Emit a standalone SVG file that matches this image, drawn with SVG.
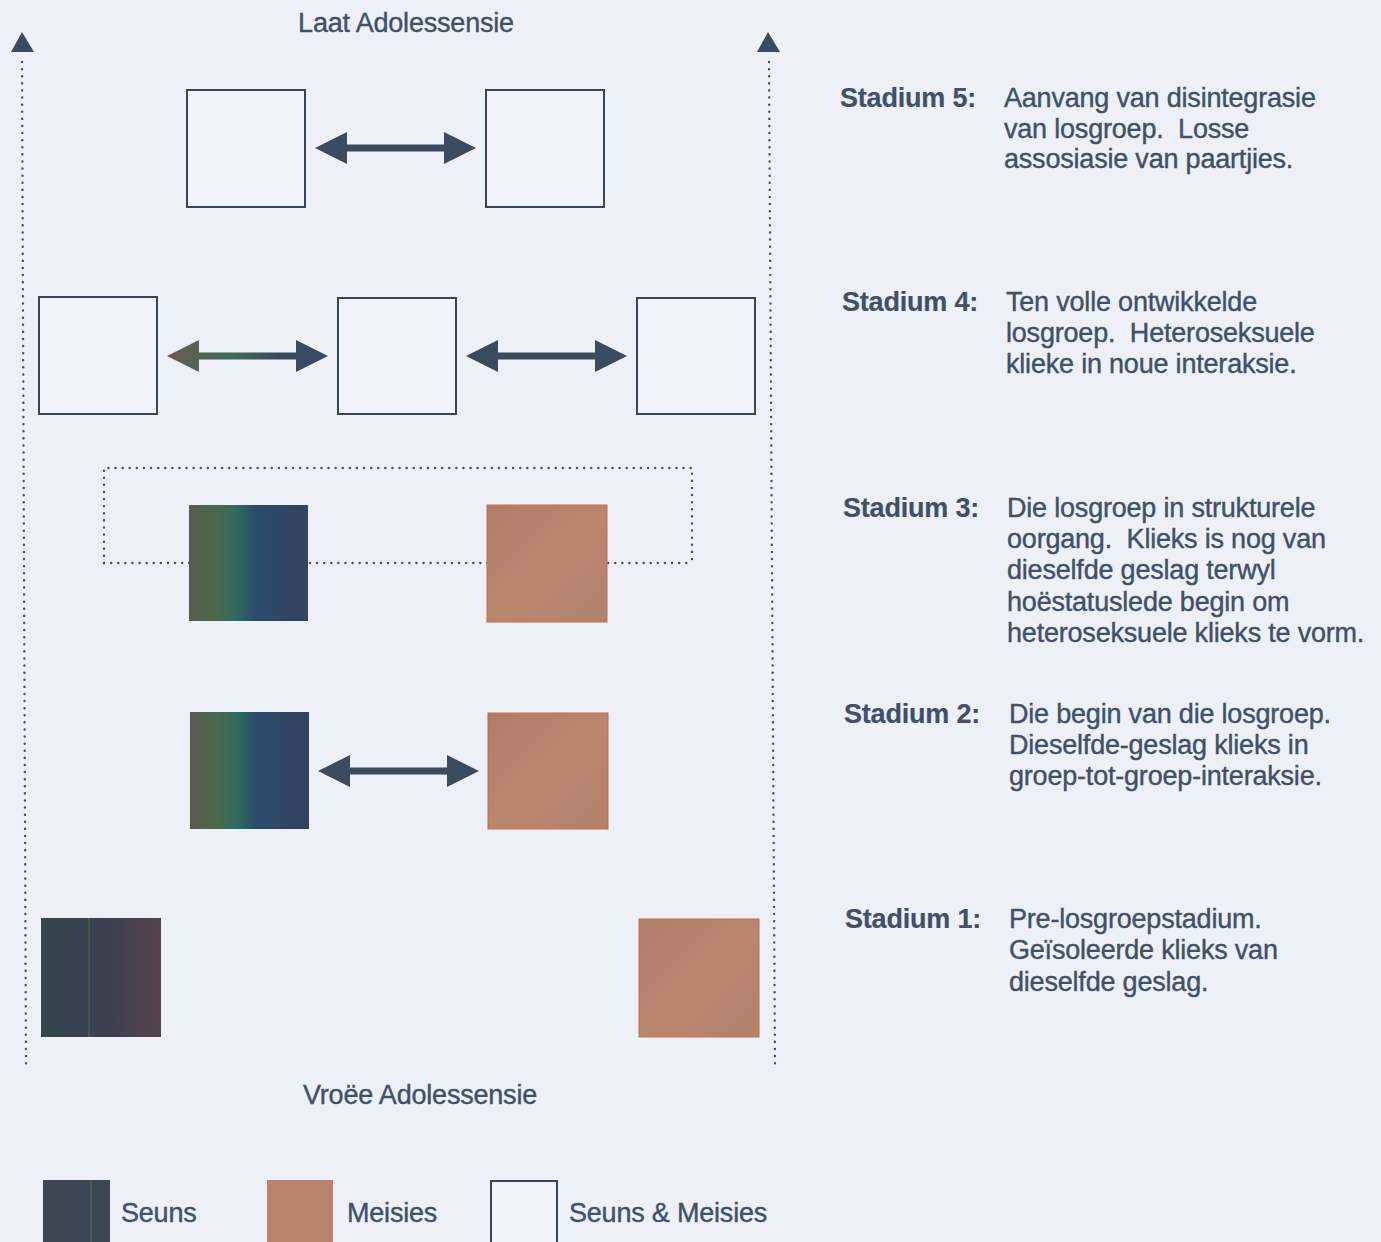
<svg xmlns="http://www.w3.org/2000/svg" width="1381" height="1242" viewBox="0 0 1381 1242">
<defs>
<style>
.t{font-family:"Liberation Sans",Arial,sans-serif;fill:#3f5069;stroke:#3f5069;stroke-width:0.4;font-size:27px;letter-spacing:-0.2px;white-space:pre}
.b{font-weight:bold;stroke-width:0.2}
.wbox{fill:#f2f3fa;stroke:#3a4458;stroke-width:2}
.girl{fill:url(#girl);stroke:#c56a4a;stroke-width:1}
.dot{fill:none;stroke:#4a4f5a;stroke-width:2.4;stroke-dasharray:0.1 7;stroke-linecap:round}
.arr{fill:#3a4a5f}
</style>
<linearGradient id="boy" x1="0" y1="0" x2="1" y2="0">
<stop offset="0" stop-color="#5b5950"/>
<stop offset="0.22" stop-color="#4a6a4a"/>
<stop offset="0.4" stop-color="#2f6a5e"/>
<stop offset="0.56" stop-color="#2a4a6a"/>
<stop offset="1" stop-color="#34435e"/>
</linearGradient>
<linearGradient id="boy1" x1="0" y1="0" x2="1" y2="0">
<stop offset="0" stop-color="#344650"/>
<stop offset="0.5" stop-color="#3a4050"/>
<stop offset="1" stop-color="#54424c"/>
</linearGradient>
<linearGradient id="girl" x1="0" y1="0" x2="1" y2="1">
<stop offset="0" stop-color="#b07e68"/>
<stop offset="0.5" stop-color="#b9876e"/>
<stop offset="1" stop-color="#b3826b"/>
</linearGradient>
<linearGradient id="arrg" x1="0" y1="0" x2="1" y2="0">
<stop offset="0" stop-color="#6a5a50"/>
<stop offset="0.4" stop-color="#3f6a58"/>
<stop offset="0.7" stop-color="#3a4a5f"/>
<stop offset="1" stop-color="#3a4a5f"/>
</linearGradient>
</defs>
<rect width="1381" height="1242" fill="#eef0f8"/>

<g id="axes">
<line class="dot" x1="22" y1="62" x2="26" y2="1066"/>
<polygon class="arr" points="22,32 11,52 34,52"/>
<line class="dot" x1="769" y1="62" x2="775" y2="1066"/>
<polygon class="arr" points="768,32 757,52 780,52"/>
</g>

<text class="t" x="406" y="32" text-anchor="middle">Laat Adolessensie</text>
<text class="t" x="420" y="1104" text-anchor="middle">Vroëe Adolessensie</text>

<g id="stage5">
<rect id="s5a" class="wbox" x="187" y="90" width="118" height="117"/>
<rect id="s5b" class="wbox" x="486" y="90" width="118" height="117"/>
</g>
<g id="stage4">
<rect id="s4a" class="wbox" x="39" y="297" width="118" height="117"/>
<rect id="s4b" class="wbox" x="338" y="298" width="118" height="116"/>
<rect id="s4c" class="wbox" x="637" y="298" width="118" height="116"/>
</g>
<g id="stage3">
<path class="dot" d="M104,563 V468 H692 V563"/>
<line class="dot" x1="104" y1="563" x2="692" y2="563"/>
<rect id="s3a" x="189" y="505" width="119" height="116" fill="url(#boy)"/>
<rect id="s3b" class="girl" x="487" y="505" width="120" height="117"/>
</g>
<g id="stage2">
<rect id="s2a" x="190" y="712" width="119" height="117" fill="url(#boy)"/>
<rect id="s2b" class="girl" x="488" y="713" width="120" height="116"/>
</g>
<g id="stage1">
<rect id="s1a" x="41" y="918" width="120" height="119" fill="url(#boy1)"/>
<line x1="89" y1="918" x2="89" y2="1037" stroke="#4a7a3a" stroke-width="1"/>
<line x1="93" y1="918" x2="93" y2="1037" stroke="#3a4a7a" stroke-width="1"/>
<rect id="s1b" class="girl" x="639" y="919" width="120" height="118"/>
</g>

<g id="connectors">
<polygon class="arr" points="315,148 347,132 347,144.5 444,144.5 444,132 476,148 444,164 444,151.5 347,151.5 347,164"/>
<polygon fill="url(#arrg)" points="167,356 199,340 199,352.5 296,352.5 296,340 328,356 296,372 296,359.5 199,359.5 199,372"/>
<polygon class="arr" points="466,356 498,340 498,352.5 595,352.5 595,340 627,356 595,372 595,359.5 498,359.5 498,372"/>
<polygon class="arr" points="318,771 350,755 350,767.5 447,767.5 447,755 479,771 447,787 447,774.5 350,774.5 350,787"/>
</g>

<g id="desc5">
<text class="t b" x="840" y="107">Stadium 5:</text>
<text class="t" x="1004" y="107">Aanvang van disintegrasie</text>
<text class="t" x="1004" y="138">van losgroep.  Losse</text>
<text class="t" x="1004" y="168">assosiasie van paartjies.</text>
</g>
<g id="desc4">
<text class="t b" x="842" y="311">Stadium 4:</text>
<text class="t" x="1006" y="311">Ten volle ontwikkelde</text>
<text class="t" x="1006" y="342">losgroep.  Heteroseksuele</text>
<text class="t" x="1006" y="373">klieke in noue interaksie.</text>
</g>
<g id="desc3">
<text class="t b" x="843" y="517">Stadium 3:</text>
<text class="t" x="1007" y="517">Die losgroep in strukturele</text>
<text class="t" x="1007" y="548">oorgang.  Klieks is nog van</text>
<text class="t" x="1007" y="579">dieselfde geslag terwyl</text>
<text class="t" x="1007" y="611">hoëstatuslede begin om</text>
<text class="t" x="1007" y="642">heteroseksuele klieks te vorm.</text>
</g>
<g id="desc2">
<text class="t b" x="844" y="723">Stadium 2:</text>
<text class="t" x="1009" y="723">Die begin van die losgroep.</text>
<text class="t" x="1009" y="754">Dieselfde-geslag klieks in</text>
<text class="t" x="1009" y="785">groep-tot-groep-interaksie.</text>
</g>
<g id="desc1">
<text class="t b" x="845" y="928">Stadium 1:</text>
<text class="t" x="1009" y="928">Pre-losgroepstadium.</text>
<text class="t" x="1009" y="959">Geïsoleerde klieks van</text>
<text class="t" x="1009" y="991">dieselfde geslag.</text>
</g>

<g id="legend">
<rect x="43" y="1180" width="67" height="62" fill="#3a4652"/>
<line x1="91" y1="1180" x2="91" y2="1242" stroke="#4a7a3a" stroke-width="1"/>
<text class="t" x="121" y="1222">Seuns</text>
<rect x="267" y="1180" width="66" height="62" fill="#b7836b"/>
<text class="t" x="347" y="1222">Meisies</text>
<rect class="wbox" x="491" y="1181" width="66" height="64"/>
<text class="t" x="569" y="1222">Seuns &amp; Meisies</text>
</g>
</svg>
